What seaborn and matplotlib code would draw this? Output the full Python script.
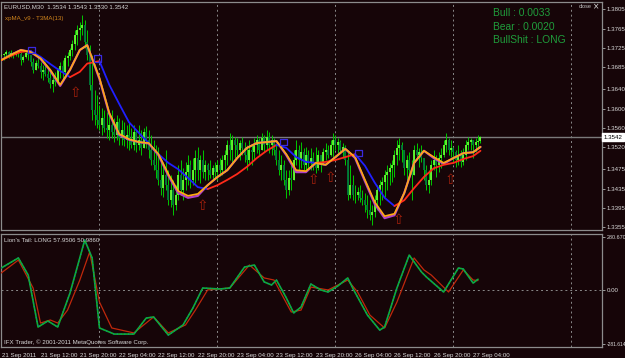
import numpy as np
import pandas as pd
import matplotlib
matplotlib.use("Agg")
import matplotlib.pyplot as plt
import seaborn as sns

# ---------------- data ----------------
bar_k = list(range(8, 204))          # half-hour bar index (21 Sep 00:00 = 0, weekend removed)
first_open = 1.3709
highs = [1.3717, 1.3715, 1.3721, 1.3719, 1.3721, 1.3717, 1.3719, 1.3721,
         1.3717, 1.3711, 1.3721, 1.3717, 1.3711, 1.3705, 1.3700, 1.3707,
         1.3696, 1.3690, 1.3696, 1.3684, 1.3680, 1.3669, 1.3676, 1.3684,
         1.3696, 1.3700, 1.3711, 1.3717, 1.3725, 1.3742, 1.3762, 1.3773,
         1.3779, 1.3793, 1.3783, 1.3762, 1.3731, 1.3711, 1.3638, 1.3628,
         1.3607, 1.3601, 1.3597, 1.3593, 1.3587, 1.3597, 1.3581, 1.3587,
         1.3581, 1.3577, 1.3572, 1.3566, 1.3572, 1.3560, 1.3566, 1.3556,
         1.3566, 1.3556, 1.3560, 1.3564, 1.3556, 1.3546, 1.3535, 1.3525,
         1.3521, 1.3494, 1.3484, 1.3515, 1.3473, 1.3463, 1.3453, 1.3442,
         1.3484, 1.3494, 1.3477, 1.3490, 1.3504, 1.3494, 1.3498, 1.3515,
         1.3521, 1.3504, 1.3515, 1.3494, 1.3488, 1.3494, 1.3484, 1.3490,
         1.3494, 1.3498, 1.3504, 1.3515, 1.3535, 1.3550, 1.3546, 1.3541,
         1.3539, 1.3535, 1.3541, 1.3531, 1.3525, 1.3535, 1.3525, 1.3539,
         1.3546, 1.3539, 1.3550, 1.3546, 1.3556, 1.3552, 1.3546, 1.3539,
         1.3529, 1.3515, 1.3504, 1.3494, 1.3473, 1.3473, 1.3484, 1.3515,
         1.3535, 1.3525, 1.3531, 1.3519, 1.3521, 1.3515, 1.3519, 1.3510,
         1.3521, 1.3515, 1.3504, 1.3519, 1.3529, 1.3525, 1.3535, 1.3550,
         1.3546, 1.3539, 1.3535, 1.3529, 1.3525, 1.3515, 1.3484, 1.3463,
         1.3442, 1.3438, 1.3442, 1.3432, 1.3426, 1.3422, 1.3411, 1.3401,
         1.3422, 1.3442, 1.3453, 1.3459, 1.3473, 1.3484, 1.3488, 1.3494,
         1.3515, 1.3535, 1.3539, 1.3531, 1.3515, 1.3504, 1.3510, 1.3494,
         1.3525, 1.3529, 1.3519, 1.3525, 1.3494, 1.3484, 1.3473, 1.3494,
         1.3515, 1.3504, 1.3510, 1.3519, 1.3535, 1.3550, 1.3539, 1.3535,
         1.3521, 1.3515, 1.3525, 1.3515, 1.3519, 1.3535, 1.3541, 1.3539,
         1.3535, 1.3539, 1.3546, 1.3543]
lows = [1.3705, 1.3700, 1.3707, 1.3705, 1.3707, 1.3705, 1.3709, 1.3707,
        1.3690, 1.3696, 1.3705, 1.3700, 1.3688, 1.3674, 1.3680, 1.3684,
        1.3663, 1.3659, 1.3667, 1.3655, 1.3643, 1.3634, 1.3647, 1.3651,
        1.3663, 1.3659, 1.3669, 1.3688, 1.3700, 1.3709, 1.3721, 1.3731,
        1.3742, 1.3752, 1.3725, 1.3700, 1.3638, 1.3577, 1.3566, 1.3560,
        1.3556, 1.3546, 1.3552, 1.3539, 1.3535, 1.3539, 1.3531, 1.3535,
        1.3525, 1.3525, 1.3523, 1.3519, 1.3515, 1.3519, 1.3515, 1.3510,
        1.3515, 1.3504, 1.3525, 1.3519, 1.3498, 1.3484, 1.3473, 1.3457,
        1.3442, 1.3422, 1.3418, 1.3432, 1.3401, 1.3397, 1.3380, 1.3391,
        1.3411, 1.3422, 1.3411, 1.3432, 1.3442, 1.3436, 1.3442, 1.3447,
        1.3453, 1.3447, 1.3457, 1.3453, 1.3453, 1.3457, 1.3453, 1.3457,
        1.3453, 1.3461, 1.3463, 1.3469, 1.3484, 1.3494, 1.3488, 1.3498,
        1.3500, 1.3494, 1.3504, 1.3490, 1.3473, 1.3488, 1.3484, 1.3494,
        1.3508, 1.3504, 1.3515, 1.3510, 1.3515, 1.3508, 1.3504, 1.3504,
        1.3484, 1.3463, 1.3453, 1.3442, 1.3416, 1.3422, 1.3432, 1.3453,
        1.3484, 1.3473, 1.3477, 1.3473, 1.3473, 1.3477, 1.3473, 1.3473,
        1.3467, 1.3473, 1.3469, 1.3484, 1.3494, 1.3498, 1.3502, 1.3500,
        1.3515, 1.3508, 1.3508, 1.3498, 1.3484, 1.3411, 1.3416, 1.3411,
        1.3405, 1.3411, 1.3407, 1.3401, 1.3387, 1.3374, 1.3370, 1.3360,
        1.3376, 1.3391, 1.3401, 1.3411, 1.3418, 1.3432, 1.3442, 1.3449,
        1.3459, 1.3484, 1.3494, 1.3490, 1.3463, 1.3453, 1.3457, 1.3411,
        1.3473, 1.3494, 1.3480, 1.3490, 1.3453, 1.3432, 1.3426, 1.3442,
        1.3473, 1.3459, 1.3469, 1.3477, 1.3500, 1.3510, 1.3504, 1.3500,
        1.3488, 1.3480, 1.3484, 1.3480, 1.3484, 1.3494, 1.3515, 1.3515,
        1.3498, 1.3510, 1.3519, 1.3530]
closes = [1.3711, 1.3713, 1.3717, 1.3709, 1.3715, 1.3711, 1.3717, 1.3713,
          1.3700, 1.3707, 1.3715, 1.3711, 1.3696, 1.3680, 1.3694, 1.3688,
          1.3676, 1.3680, 1.3671, 1.3663, 1.3651, 1.3659, 1.3655, 1.3680,
          1.3688, 1.3676, 1.3705, 1.3709, 1.3721, 1.3733, 1.3752, 1.3762,
          1.3766, 1.3773, 1.3737, 1.3711, 1.3649, 1.3597, 1.3587, 1.3577,
          1.3566, 1.3581, 1.3560, 1.3556, 1.3566, 1.3552, 1.3546, 1.3572,
          1.3539, 1.3556, 1.3535, 1.3546, 1.3535, 1.3525, 1.3552, 1.3525,
          1.3535, 1.3519, 1.3552, 1.3535, 1.3515, 1.3494, 1.3484, 1.3473,
          1.3453, 1.3436, 1.3463, 1.3442, 1.3411, 1.3432, 1.3401, 1.3422,
          1.3463, 1.3432, 1.3453, 1.3469, 1.3484, 1.3453, 1.3473, 1.3498,
          1.3473, 1.3494, 1.3469, 1.3484, 1.3473, 1.3463, 1.3477, 1.3469,
          1.3484, 1.3473, 1.3494, 1.3504, 1.3525, 1.3515, 1.3535, 1.3525,
          1.3515, 1.3529, 1.3519, 1.3504, 1.3494, 1.3515, 1.3510, 1.3525,
          1.3535, 1.3515, 1.3539, 1.3525, 1.3541, 1.3525, 1.3535, 1.3515,
          1.3494, 1.3473, 1.3484, 1.3453, 1.3432, 1.3457, 1.3453, 1.3494,
          1.3515, 1.3494, 1.3510, 1.3484, 1.3504, 1.3490, 1.3498, 1.3484,
          1.3477, 1.3504, 1.3484, 1.3510, 1.3515, 1.3504, 1.3525, 1.3535,
          1.3525, 1.3531, 1.3515, 1.3521, 1.3494, 1.3422, 1.3442, 1.3422,
          1.3422, 1.3428, 1.3416, 1.3411, 1.3401, 1.3391, 1.3380, 1.3387,
          1.3411, 1.3432, 1.3442, 1.3449, 1.3463, 1.3469, 1.3477, 1.3484,
          1.3504, 1.3519, 1.3525, 1.3515, 1.3477, 1.3494, 1.3473, 1.3463,
          1.3515, 1.3504, 1.3510, 1.3498, 1.3473, 1.3442, 1.3453, 1.3484,
          1.3494, 1.3484, 1.3498, 1.3504, 1.3525, 1.3535, 1.3515, 1.3519,
          1.3510, 1.3494, 1.3504, 1.3490, 1.3504, 1.3525, 1.3531, 1.3535,
          1.3525, 1.3531, 1.3534, 1.3542]

ma_k = [8, 12, 16, 20, 24, 28, 32, 36, 40, 43, 48, 52, 56, 60, 64, 68, 72, 76,
        80, 84, 88, 92, 96, 100, 104, 108, 112, 116, 120, 124, 128, 132, 136,
        140, 144, 148, 152, 156, 160, 164, 168, 172, 176, 180, 184, 188, 192,
        196, 200, 203]
t3ma_fast = [1.3700, 1.3711, 1.3721, 1.3717, 1.3704, 1.3680, 1.3649, 1.3680,
             1.3721, 1.3731, 1.3663, 1.3591, 1.3548, 1.3537, 1.3531, 1.3529,
             1.3506, 1.3465, 1.3430, 1.3420, 1.3424, 1.3442, 1.3459, 1.3473,
             1.3498, 1.3519, 1.3529, 1.3531, 1.3533, 1.3506, 1.3473, 1.3471,
             1.3488, 1.3484, 1.3500, 1.3517, 1.3500, 1.3453, 1.3407, 1.3378,
             1.3383, 1.3426, 1.3488, 1.3513, 1.3500, 1.3488, 1.3498, 1.3508,
             1.3510, 1.3521]
xpma_magenta = [1.3700, 1.3711, 1.3721, 1.3717, 1.3703, 1.3678, 1.3647, 1.3680,
                1.3721, 1.3731, 1.3661, 1.3589, 1.3546, 1.3536, 1.3531, 1.3528,
                1.3504, 1.3462, 1.3426, 1.3416, 1.3420, 1.3442, 1.3459, 1.3473,
                1.3498, 1.3519, 1.3529, 1.3531, 1.3533, 1.3504, 1.3469, 1.3469,
                1.3488, 1.3484, 1.3500, 1.3517, 1.3498, 1.3450, 1.3403, 1.3374,
                1.3380, 1.3426, 1.3488, 1.3513, 1.3498, 1.3486, 1.3498, 1.3508,
                1.3510, 1.3521]
slow_ma = [1.3700, 1.3709, 1.3717, 1.3719, 1.3707, 1.3692, 1.3678, 1.3665,
           1.3676, 1.3693, 1.3698, 1.3649, 1.3610, 1.3572, 1.3550, 1.3529,
           1.3506, 1.3488, 1.3475, 1.3457, 1.3438, 1.3434, 1.3442, 1.3453,
           1.3465, 1.3480, 1.3498, 1.3513, 1.3525, 1.3519, 1.3500, 1.3490,
           1.3488, 1.3490, 1.3494, 1.3500, 1.3506, 1.3482, 1.3447, 1.3416,
           1.3399, 1.3411, 1.3436, 1.3459, 1.3477, 1.3484, 1.3488, 1.3496,
           1.3502, 1.3513]

square_k = [20.3, 47.2, 122.9, 153.4]
square_price = [1.3721, 1.3704, 1.3531, 1.3508]
arrow_k = [38.2, 89.9, 135.1, 142.0, 169.6, 190.8]
arrow_price = [1.3632, 1.3399, 1.3453, 1.3457, 1.3370, 1.3453]

osc_green_k = [8, 15, 19, 23, 27, 31, 36, 42, 45, 48, 54, 62, 67, 70, 76, 82, 86,
               90, 97, 101, 107, 111, 115, 118, 120, 124, 127, 130, 134, 138, 141,
               145, 149, 151, 157, 162, 164, 169, 174, 179, 181, 188, 194, 196,
               200, 202]
osc_green = [117, 170, 80, -193, -161, -193, -14, 264, 170, -198, -230, -230,
             -146, -140, -235, -182, -93, 12, 7, 12, 122, 133, 44, 28, 54, -40,
             -119, -88, 33, 2, -9, 23, 65, 12, -130, -209, -193, 12, 185, 96, 70,
             -9, 117, 112, 38, 57.95]
osc_red_k = [8, 15, 21, 24, 28, 31, 35, 40, 44, 48, 53, 62, 70, 76, 83, 87, 92,
             101, 109, 115, 119, 126, 130, 134, 141, 149, 153, 158, 164, 169, 176,
             180, 183, 190, 196, 200, 202]
osc_red = [91, 159, 12, -172, -156, -172, -104, 54, 201, -62, -198, -224, -140,
           -224, -182, -104, 2, 12, 133, 65, 54, -114, -104, 17, 2, 54, -9, -130,
           -198, -62, 170, 107, 80, -9, 107, 54, 50.99]

price_ticks = [1.3805, 1.3765, 1.3725, 1.3685, 1.3640, 1.3600, 1.3560, 1.3520,
               1.3475, 1.3435, 1.3395, 1.3355]
price_labels = ["1.3805", "1.3765", "1.3725", "1.3685", "1.3640", "1.3600", "1.3560",
                "1.3520", "1.3475", "1.3435", "1.3395", "1.3355"]
osc_ticks = [280.670, 0.0, -281.614]
osc_labels = ["280.670", "0.00", "-281.614"]
time_k = [8.5, 24, 40, 56, 72, 88, 104, 120, 136, 152, 168, 184, 200]
time_labels = ["21 Sep 2011", "21 Sep 12:00", "21 Sep 20:00", "22 Sep 04:00",
               "22 Sep 12:00", "22 Sep 20:00", "23 Sep 04:00", "23 Sep 12:00",
               "23 Sep 20:00", "26 Sep 04:00", "26 Sep 12:00", "26 Sep 20:00",
               "27 Sep 04:00"]
day_k = [48, 96, 144, 192, 240]
last_price = 1.3542

# ---------------- style ----------------
sns.set_style("dark")
BG = "#160508"
GRID = "#8a8a8a"
TXT = "#d8d8d8"
plt.rcParams["font.family"] = ["Liberation Sans", "DejaVu Sans"]
FS = 4.4

W, H = 625, 358
fig = plt.figure(figsize=(W / 100, H / 100), dpi=100)
fig.patch.set_facecolor(BG)


def rect(x0, y0, x1, y1):
    return [x0 / W, 1 - y1 / H, (x1 - x0) / W, (y1 - y0) / H]


ax = fig.add_axes(rect(1, 2, 602, 230))
ax2 = fig.add_axes(rect(1, 234, 602, 347))
k_left = 7.93
k_right = k_left + 601 / 2.458
for a in (ax, ax2):
    a.set_facecolor(BG)
    a.set_xlim(k_left, k_right)
    a.grid(False)
    for s in a.spines.values():
        s.set_color("#8c8c8c")
        s.set_linewidth(0.9)
    for dk in day_k:
        a.axvline(dk, color=GRID, lw=0.7, ls=(0, (2, 3)), zorder=1)

ax.set_ylim(1.33495, 1.38201)
ax2.set_ylim(-297.9, 295.9)

# ---------------- candles ----------------
df = pd.DataFrame({"k": bar_k, "high": highs, "low": lows, "close": closes})
df["open"] = [first_open] + closes[:-1]
df["top"] = df[["high", "open", "close"]].max(axis=1)
df["bot"] = df[["low", "open", "close"]].min(axis=1)
up = df["close"] >= df["open"]
ax.vlines(df["k"], df["bot"], df["top"], color="#00c800", lw=0.7, zorder=2)
ax.vlines(df.loc[up, "k"], df.loc[up, "open"], df.loc[up, "close"],
          color="#66ff33", lw=1.3, zorder=3)
ax.vlines(df.loc[~up, "k"], df.loc[~up, "close"], df.loc[~up, "open"],
          color="#007a3a", lw=1.3, zorder=3)

ax.axhline(last_price, color="#7a7a7a", lw=1.0, zorder=1.5)

# ---------------- moving averages ----------------
mk = np.array(ma_k, dtype=float)
sns.lineplot(x=mk, y=xpma_magenta, color="#b040c8", lw=1.6, ax=ax,
             estimator=None, sort=False, legend=False, zorder=4)
sns.lineplot(x=mk, y=t3ma_fast, color="#ffa814", lw=1.25, ax=ax,
             estimator=None, sort=False, legend=False, zorder=5)

slow = np.array(slow_ma)
falling = np.diff(slow) < 0
start = 0
for i in range(1, len(falling) + 1):
    if i == len(falling) or falling[i] != falling[start]:
        seg = slice(start, i + 1)
        sns.lineplot(x=mk[seg], y=slow[seg],
                     color="#2020ff" if falling[start] else "#ff2a1a",
                     lw=1.3, ax=ax, estimator=None, sort=False, legend=False,
                     zorder=4.5)
        start = i

sns.scatterplot(x=square_k, y=square_price, marker="s", s=22,
                facecolor="none", edgecolor="#3a2adf", linewidth=0.9,
                ax=ax, legend=False, zorder=6)
for kx, py in zip(arrow_k, arrow_price):
    ax.text(kx, py, "\u21e7", color="#a3200c", fontsize=10, ha="center",
            va="center", family="DejaVu Sans", zorder=6)

# ---------------- oscillator ----------------
ax2.axhline(0, color=GRID, lw=0.7, ls=(0, (2, 3)), zorder=1)
sns.lineplot(x=osc_red_k, y=osc_red, color="#c0280c", lw=0.9, ax=ax2,
             estimator=None, sort=False, legend=False, zorder=3)
sns.lineplot(x=osc_green_k, y=osc_green, color="#10b02c", lw=1.2, ax=ax2,
             estimator=None, sort=False, legend=False, zorder=4)
sns.lineplot(x=osc_green_k, y=osc_green, color="#0a8a8a", lw=0.9, ax=ax2,
             estimator=None, sort=False, legend=False, zorder=5,
             dashes=False, linestyle=(0, (1, 2)))

# ---------------- axes ticks ----------------
ax.set_xticks([])
ax.yaxis.tick_right()
ax.set_yticks(price_ticks)
ax.set_yticklabels(price_labels)
ax2.yaxis.tick_right()
ax2.set_yticks(osc_ticks)
ax2.set_yticklabels(osc_labels)
for a in (ax, ax2):
    a.tick_params(axis="y", direction="out", length=2.5, width=0.7,
                  color="#9a9a9a", labelcolor=TXT, labelsize=FS, pad=1.0)
    a.set_xlabel("")
    a.set_ylabel("")
ax2.tick_params(axis="y", pad=0.6)
lbls = ax2.get_yticklabels()
lbls[0].set_fontsize(3.9)
lbls[2].set_fontsize(3.6)
ax2.set_xticks(time_k)
ax2.set_xticklabels(time_labels, ha="left")
ax2.tick_params(axis="x", direction="out", length=2.5, width=0.7,
                color="#9a9a9a", labelcolor=TXT, labelsize=FS, pad=1.5)

# current price box
fig.text(603.5 / W, 1 - 137 / H, "1.3542", fontsize=FS, color="black",
         va="center", ha="left",
         bbox=dict(boxstyle="square,pad=0.2", fc="white", ec="white"))

# ---------------- texts ----------------
fig.text(4 / W, 1 - 6.5 / H, "EURUSD,M30  1.3534 1.3543 1.3530 1.3542",
         fontsize=FS, color=TXT, va="center", ha="left")
fig.text(5 / W, 1 - 18.5 / H, "xpMA_v9 - T3MA(13)", fontsize=FS,
         color="#d0841c", va="center", ha="left")
for i, line in enumerate(["Bull : 0.0033", "Bear : 0.0020", "BullShit : LONG"]):
    fig.text(493 / W, 1 - (13.5 + 13.2 * i) / H, line, fontsize=7.4,
             color="#1f9d3b", va="center", ha="left")
fig.text(579 / W, 1 - 7 / H, "close", fontsize=4.0, color="#c8c8c8",
         va="center", ha="left")
fig.text(593 / W, 1 - 7 / H, "\u00d7", fontsize=5.5, color="#e0e0e0",
         va="center", ha="left", family="DejaVu Sans")
fig.text(4 / W, 1 - 241 / H, "Lion's Tail: LONG 57.9506 50.9860", fontsize=FS,
         color=TXT, va="center", ha="left")
fig.text(4 / W, 1 - 342 / H,
         "IFX Trader, \u00a9 2001-2011 MetaQuotes Software Corp.",
         fontsize=FS, color=TXT, va="center", ha="left")

fig.savefig("out.png", dpi=100, facecolor=BG)
